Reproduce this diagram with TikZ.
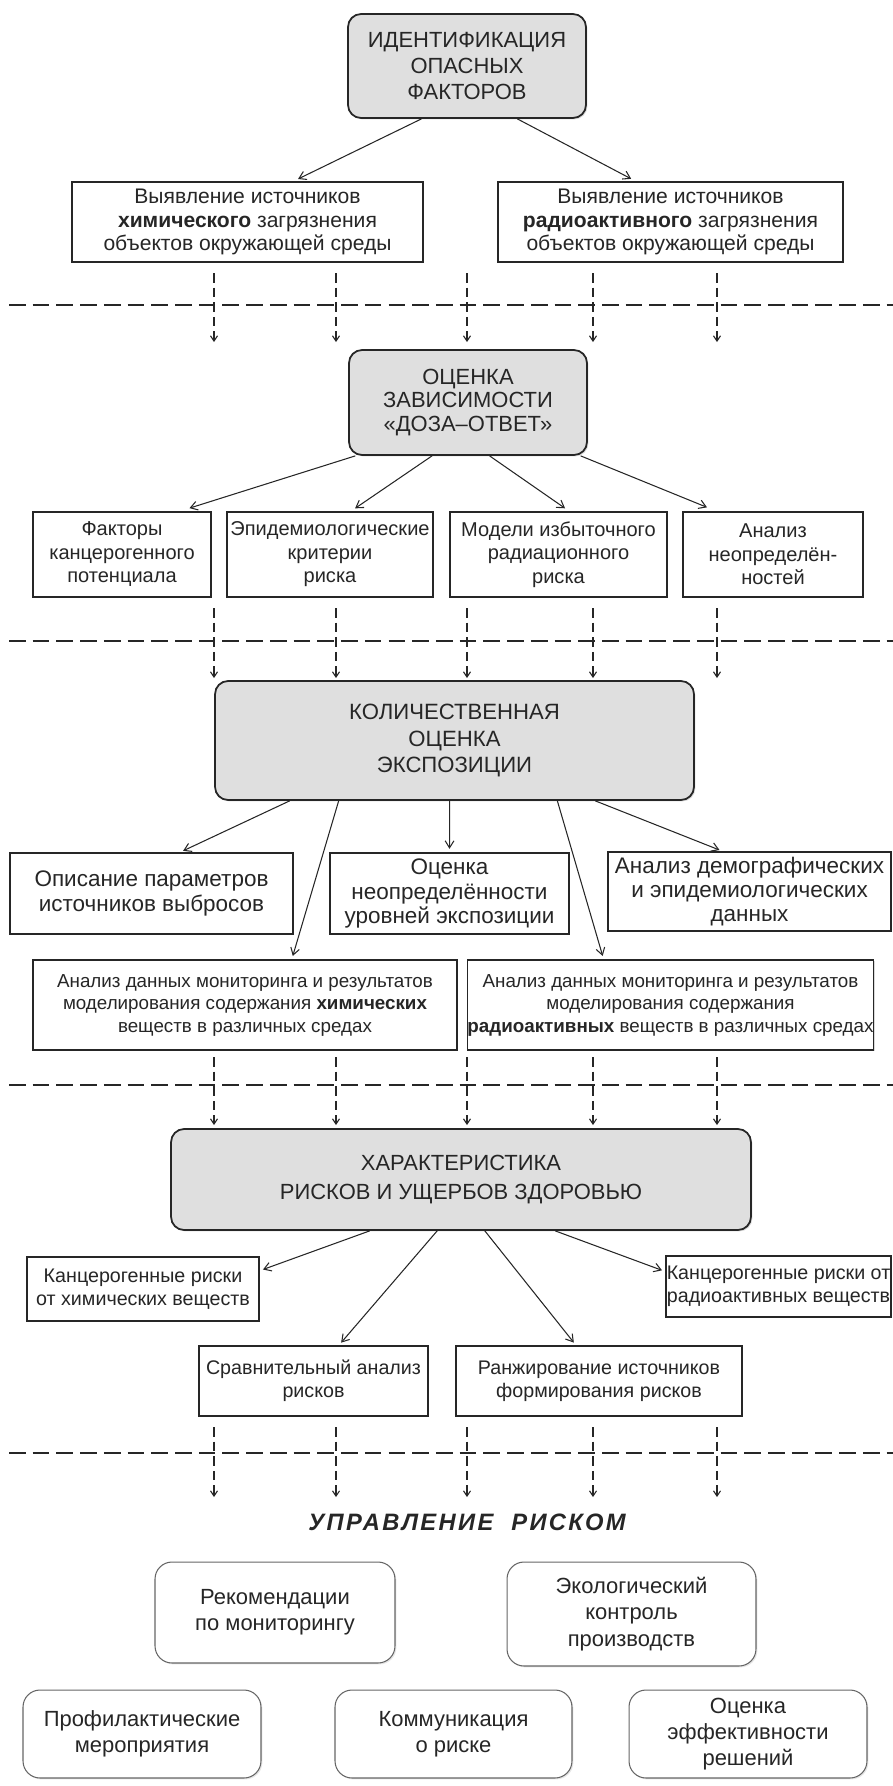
\documentclass[tikz,border=0pt]{standalone}
\usepackage{fontspec}
\setmainfont{Liberation Sans}
\newfontfamily\spacedfont[LetterSpace=10]{Liberation Sans}
\usetikzlibrary{positioning,calc,arrows.meta,shadows}

\begin{document}
\begin{tikzpicture}[x=0.02cm,y=-0.02cm,
greybox/.style={
  draw=black!85,
  line width=1pt,
  fill=gray!25,
  rounded corners=0.26cm,
  align=center,
  inner sep=0pt,
  text=black!85,
  drop shadow={opacity=0.3,shadow xshift=0.8pt,shadow yshift=-0.8pt}},
plainbox/.style={
  draw=black!85,
  line width=0.8pt,
  fill=white,
  align=center,
  inner sep=0pt,
  text=black!85,
  drop shadow={opacity=0.3,shadow xshift=0.6pt,shadow yshift=-0.6pt}},
softbox/.style={
  draw=black!60,
  line width=0.6pt,
  fill=white,
  rounded corners=0.34cm,
  align=center,
  inner sep=0pt,
  text=black!85,
  drop shadow={opacity=0.2,shadow xshift=0.8pt,shadow yshift=-0.8pt}},
flow/.style={
  -{Straight Barb[length=4pt,width=5pt]},
  line width=0.6pt,
  black!85,
  shorten >=2pt},
sepline/.style={
  black!85,
  line width=1.1pt,
  dash pattern=on 9.5pt off 4pt},
downflow/.style={
  -{Straight Barb[length=3pt,width=4pt]},
  black!85,
  line width=0.6pt,
  dash pattern=on 5.5pt off 2.8pt}
]
\useasboundingbox (0,0) rectangle (893,1786);

% main stages
\node[greybox, minimum width=4.76cm, minimum height=2.08cm,
  font=\fontsize{12.5}{14.8}\selectfont] (ident) at (467,66)
  {ИДЕНТИФИКАЦИЯ\\ОПАСНЫХ\\ФАКТОРОВ};
\node[greybox, minimum width=4.76cm, minimum height=2.1cm,
  font=\fontsize{12.5}{13.2}\selectfont] (doza) at (468,402.5)
  {ОЦЕНКА\\ЗАВИСИМОСТИ\\«ДОЗА–ОТВЕТ»};
\node[greybox, minimum width=9.58cm, minimum height=2.38cm,
  font=\fontsize{12.6}{15.2}\selectfont] (expo) at (454.5,740.5)
  {КОЛИЧЕСТВЕННАЯ\\ОЦЕНКА\\ЭКСПОЗИЦИИ};
\node[greybox, minimum width=11.6cm, minimum height=2.02cm,
  font=\fontsize{12.5}{17}\selectfont] (charact) at (461,1179.5)
  {ХАРАКТЕРИСТИКА\\РИСКОВ И УЩЕРБОВ ЗДОРОВЬЮ};

% hazard identification
\node[plainbox, minimum width=7.02cm, minimum height=1.6cm,
  font=\fontsize{12}{13.4}\selectfont] (chem) at (247.5,222)
  {Выявление источников\\\textbf{химического} загрязнения\\объектов окружающей среды};
\node[plainbox, minimum width=6.9cm, minimum height=1.6cm,
  font=\fontsize{12}{13.4}\selectfont] (rad) at (670.5,222)
  {Выявление источников\\\textbf{радиоактивного} загрязнения\\объектов окружающей среды};

% dose-response
\tikzset{rowtwo/.style={plainbox, minimum height=1.7cm, font=\fontsize{11.4}{13.4}\selectfont}}
\node[rowtwo, minimum width=3.56cm] (factor) at (122,554.5)
  {Факторы\\канцерогенного\\потенциала};
\node[rowtwo, minimum width=4.12cm] (epid) at (330,554.5)
  {Эпидемиологические\\критерии\\риска};
\node[rowtwo, minimum width=4.34cm] (excess) at (558.5,554.5)
  {Модели избыточного\\радиационного\\риска};
\node[rowtwo, minimum width=3.6cm] (uncdr) at (773,554.5)
  {Анализ\\неопределён-\\ностей};

% exposure
\tikzset{rowthree/.style={plainbox, font=\fontsize{12.8}{13.8}\selectfont}}
\node[rowthree, minimum width=5.66cm, minimum height=1.62cm] (descr) at (151.5,893.5)
  {Описание параметров\\источников выбросов};
\node[rowthree, minimum width=4.78cm, minimum height=1.62cm] (uncexp) at (449.5,893.5)
  {Оценка\\неопределённости\\уровней экспозиции};
\node[rowthree, minimum width=5.66cm, minimum height=1.58cm] (demo) at (749.5,891.5)
  {Анализ демографических\\и эпидемиологических\\данных};
\tikzset{rowfour/.style={plainbox, minimum height=1.8cm, font=\fontsize{10.7}{12.8}\selectfont}}
\node[rowfour, minimum width=8.48cm] (monchem) at (245,1005)
  {Анализ данных мониторинга и результатов\\моделирования содержания \textbf{химических}\\веществ в различных средах};
\node[rowfour, minimum width=7.86cm] (monrad) at (670.5,1005)
  {Анализ данных мониторинга и результатов\\моделирования содержания\\\textbf{радиоактивных} веществ в различных средах};

% risk characterisation
\tikzset{rowfive/.style={plainbox, font=\fontsize{11.2}{13.1}\selectfont}}
\node[rowfive, minimum width=4.64cm, minimum height=1.28cm] (cancchem) at (143,1289)
  {Канцерогенные риски\\от химических веществ};
\node[rowfive, minimum width=4.5cm, minimum height=1.22cm] (cancrad) at (778.5,1286.5)
  {Канцерогенные риски от\\радиоактивных веществ};
\node[rowfive, minimum width=4.58cm, minimum height=1.4cm] (compar) at (313.5,1381)
  {Сравнительный анализ\\рисков};
\node[rowfive, minimum width=5.72cm, minimum height=1.4cm] (rank) at (599,1381)
  {Ранжирование источников\\формирования рисков};

% risk management
\node[font={\fontsize{13.5}{16}\selectfont\spacedfont\bfseries\itshape}, text=black!85] (manage) at (467,1522)
  {УПРАВЛЕНИЕ\ \ РИСКОМ};
\tikzset{mgmt/.style={softbox, font=\fontsize{12.5}{15}\selectfont}}
\node[mgmt, minimum width=4.8cm, minimum height=2.02cm] (recom) at (275,1612.5)
  {Рекомендации\\по мониторингу};
\node[mgmt, minimum width=4.98cm, minimum height=2.08cm] (ecol) at (631.5,1614)
  {Экологический\\контроль\\производств};
\node[mgmt, minimum width=4.76cm, minimum height=1.76cm] (prof) at (142,1734)
  {Профилактические\\мероприятия};
\node[mgmt, minimum width=4.74cm, minimum height=1.76cm] (comm) at (453.5,1734)
  {Коммуникация\\о риске};
\node[mgmt, minimum width=4.76cm, minimum height=1.76cm] (eff) at (748,1734)
  {Оценка\\эффективности\\решений};

% arrows
\draw[flow, shorten >=3pt] ($(ident.south west)!.31!(ident.south east)$) -- ($(chem.north west)!.63!(chem.north east)$);
\draw[flow, shorten >=3pt] ($(ident.south west)!.71!(ident.south east)$) -- ($(rad.north west)!.40!(rad.north east)$);

\draw[flow, shorten >=6pt] ($(doza.south west)!.03!(doza.south east)$) -- ($(factor.north west)!.82!(factor.north east)$);
\draw[flow, shorten >=3pt] ($(doza.south west)!.35!(doza.south east)$) -- ($(epid.north west)!.60!(epid.north east)$);
\draw[flow, shorten >=3pt] ($(doza.south west)!.59!(doza.south east)$) -- ($(excess.north west)!.55!(excess.north east)$);
\draw[flow, shorten >=6pt] ($(doza.south west)!.97!(doza.south east)$) -- ($(uncdr.north west)!.19!(uncdr.north east)$);

\draw[flow] ($(expo.south west)!.157!(expo.south east)$) -- ($(descr.north west)!.60!(descr.north east)$);
\draw[flow] ($(expo.south west)!.259!(expo.south east)$) -- ($(monchem.north west)!.61!(monchem.north east)$);
\draw[flow] ($(expo.south west)!.49!(expo.south east)$) -- ($(uncexp.north west)!.50!(uncexp.north east)$);
\draw[flow] ($(expo.south west)!.714!(expo.south east)$) -- ($(monrad.north west)!.336!(monrad.north east)$);
\draw[flow] ($(expo.south west)!.793!(expo.south east)$) -- ($(demo.north west)!.406!(demo.north east)$);

\draw[flow] ($(charact.south west)!.343!(charact.south east)$) -- ($(cancchem.north east)!.22!(cancchem.south east)$);
\draw[flow] ($(charact.south west)!.459!(charact.south east)$) -- ($(compar.north west)!.61!(compar.north east)$);
\draw[flow] ($(charact.south west)!.541!(charact.south east)$) -- ($(rank.north west)!.42!(rank.north east)$);
\draw[flow] ($(charact.south west)!.662!(charact.south east)$) -- ($(cancrad.north west)!.26!(cancrad.south west)$);

% stage borders
\foreach \ya/\yb/\ys in {273/342/305, 608/678/641, 1057/1125/1085, 1427/1497/1453} {
  \coordinate (L) at (9,\ys);
  \coordinate (R) at (893,\ys);
  \draw[sepline] (L) -- (R);
  \foreach \x in {214,336,467,593,717} {
    \coordinate (top) at (\x,\ya);
    \coordinate (bot) at (\x,\yb);
    \draw[downflow] (top) -- (bot);
  }
}
\end{tikzpicture}
\end{document}
